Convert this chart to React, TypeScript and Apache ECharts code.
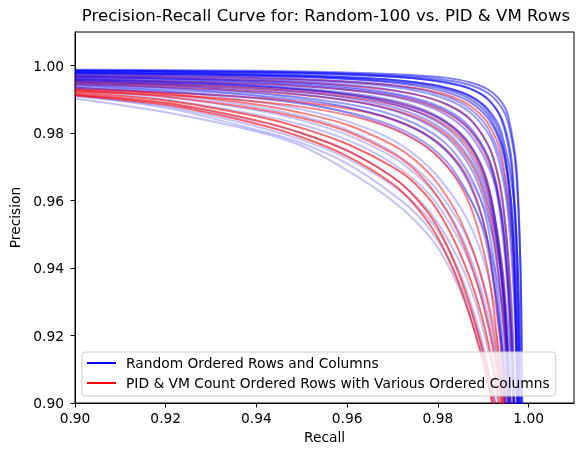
import React, { useEffect, useRef } from "react";
import * as echarts from "echarts";

const TITLE = "Precision-Recall Curve for: Random-100 vs. PID & VM Rows";
const X_NAME = "Recall";
const Y_NAME = "Precision";
const BLUE_NAME = "Random Ordered Rows and Columns";
const RED_NAME = "PID & VM Count Ordered Rows with Various Ordered Columns";

const RECALL_TICKS = [0.9, 0.92, 0.94, 0.96, 0.98, 1.0];
const PRECISION_TICKS = [0.9, 0.92, 0.94, 0.96, 0.98, 1.0];

// [recall, precision] points
const BLUE_OUTER = [
  [[0.90,0.9988],[0.93,0.9986],[0.95,0.9983],[0.965,0.9978],[0.975,0.9972],[0.982,0.9964],[0.987,0.9951],[0.991,0.993],[0.994,0.9893],[0.9955,0.985],[0.9973,0.97],[0.9982,0.94],[0.9985,0.9],[0.9986,0.86]],
  [[0.90,0.9986],[0.93,0.9983],[0.95,0.998],[0.965,0.9974],[0.975,0.9967],[0.982,0.9957],[0.987,0.9943],[0.991,0.9919],[0.994,0.9877],[0.9955,0.983],[0.99715,0.97],[0.9982,0.94],[0.9986,0.9],[0.99877,0.86]],
  [[0.90,0.9986],[0.93,0.9983],[0.95,0.9979],[0.965,0.9972],[0.975,0.9963],[0.982,0.9951],[0.987,0.9933],[0.991,0.9901],[0.994,0.9841],[0.9962,0.97],[0.9974,0.94],[0.9979,0.9],[0.9981,0.86]],
  [[0.90,0.9982],[0.93,0.9978],[0.95,0.9972],[0.965,0.9963],[0.975,0.9951],[0.982,0.9934],[0.987,0.9911],[0.991,0.9872],[0.994,0.9803],[0.99675,0.96],[0.99786,0.93],[0.99829,0.9],[0.99858,0.86]],
  [[0.90,0.9984],[0.93,0.9981],[0.95,0.9977],[0.965,0.997],[0.975,0.9962],[0.982,0.9949],[0.987,0.9932],[0.991,0.9901],[0.994,0.9845],[0.9955,0.9779],[0.9964,0.97],[0.9976,0.94],[0.9981,0.9],[0.9983,0.86]],
  [[0.90,0.9979],[0.93,0.9974],[0.95,0.9967],[0.965,0.9956],[0.975,0.9941],[0.982,0.9921],[0.987,0.9893],[0.991,0.9845],[0.994,0.976],[0.99613,0.96],[0.99746,0.93],[0.99799,0.9],[0.99834,0.86]],
  [[0.90,0.998],[0.93,0.9976],[0.95,0.997],[0.965,0.9962],[0.975,0.9951],[0.982,0.9934],[0.987,0.991],[0.991,0.9867],[0.994,0.9784],[0.99609,0.96],[0.99709,0.93],[0.99749,0.9],[0.99775,0.86]],
  [[0.90,0.9978],[0.93,0.9973],[0.95,0.9967],[0.965,0.9958],[0.975,0.9946],[0.982,0.9928],[0.987,0.9902],[0.991,0.9856],[0.994,0.9771],[0.99513,0.97],[0.9969,0.94],[0.99759,0.9],[0.99788,0.86]],
];

const BLUE_MID = [
  [[0.90,0.9973],[0.93,0.9966],[0.95,0.9957],[0.965,0.9944],[0.975,0.9926],[0.982,0.99],[0.987,0.9863],[0.991,0.9801],[0.993,0.9738],[0.99513,0.96],[0.99682,0.93],[0.99748,0.9],[0.99792,0.86]],
  [[0.90,0.997],[0.93,0.9962],[0.95,0.9952],[0.965,0.9937],[0.975,0.9915],[0.982,0.9885],[0.987,0.9842],[0.991,0.9766],[0.993,0.9689],[0.99431,0.96],[0.99623,0.93],[0.99698,0.9],[0.99747,0.86]],
  [[0.90,0.9976],[0.93,0.997],[0.95,0.9961],[0.965,0.9949],[0.975,0.9932],[0.982,0.9908],[0.987,0.9873],[0.991,0.9815],[0.994,0.971],[0.99614,0.95],[0.99723,0.92],[0.99759,0.9],[0.99799,0.86]],
  [[0.90,0.9968],[0.93,0.9959],[0.95,0.9947],[0.965,0.9929],[0.975,0.9904],[0.982,0.9869],[0.987,0.9819],[0.991,0.9732],[0.993,0.9643],[0.9947,0.95],[0.99626,0.92],[0.99678,0.9],[0.99736,0.86]],
  [[0.90,0.995],[0.93,0.9935],[0.95,0.9915],[0.965,0.9885],[0.975,0.9844],[0.982,0.9787],[0.987,0.9703],[0.99,0.9608],[0.99197,0.95],[0.99397,0.93],[0.99544,0.9],[0.99641,0.86]],
  [[0.90,0.996],[0.93,0.9949],[0.95,0.9933],[0.965,0.991],[0.975,0.9879],[0.982,0.9833],[0.987,0.9768],[0.991,0.9652],[0.99423,0.94],[0.99532,0.92],[0.99596,0.9],[0.9967,0.86]],
  [[0.90,0.996],[0.93,0.9947],[0.95,0.9929],[0.965,0.9902],[0.975,0.9865],[0.982,0.9814],[0.987,0.974],[0.991,0.9615],[0.99392,0.94],[0.9952,0.92],[0.99597,0.9],[0.99684,0.86]],
  [[0.90,0.994],[0.93,0.9922],[0.95,0.9898],[0.965,0.9862],[0.975,0.9813],[0.982,0.9745],[0.987,0.9647],[0.99067,0.95],[0.99312,0.93],[0.99446,0.91],[0.99492,0.9],[0.9961,0.86]],
  [[0.90,0.9958],[0.93,0.9946],[0.95,0.993],[0.965,0.9906],[0.975,0.9873],[0.982,0.9828],[0.987,0.9762],[0.99,0.968],[0.9925,0.955],[0.9945,0.93],[0.9957,0.9],[0.9966,0.86]],
  [[0.90,0.9964],[0.93,0.9954],[0.95,0.994],[0.965,0.992],[0.975,0.9892],[0.982,0.9853],[0.987,0.9797],[0.991,0.9705],[0.993,0.962],[0.995,0.94],[0.9962,0.91],[0.9966,0.9],[0.9972,0.86]],
  [[0.90,0.9945],[0.93,0.9928],[0.95,0.9906],[0.965,0.9873],[0.975,0.9828],[0.982,0.9766],[0.987,0.9675],[0.99,0.958],[0.992,0.945],[0.9938,0.925],[0.9951,0.9],[0.9962,0.86]],
  [[0.90,0.9935],[0.93,0.9915],[0.95,0.9887],[0.965,0.9845],[0.975,0.979],[0.982,0.9715],[0.987,0.961],[0.99,0.951],[0.992,0.938],[0.9938,0.92],[0.9948,0.9],[0.996,0.86]],
  [[0.90,0.9966],[0.93,0.9957],[0.95,0.9944],[0.965,0.9925],[0.975,0.99],[0.982,0.9864],[0.987,0.9812],[0.991,0.973],[0.9935,0.96],[0.9955,0.935],[0.9966,0.905],[0.9968,0.9],[0.9973,0.86]],
  [[0.90,0.9955],[0.93,0.9941],[0.95,0.9922],[0.965,0.9893],[0.975,0.9855],[0.982,0.9802],[0.987,0.9725],[0.99,0.964],[0.9925,0.951],[0.9945,0.93],[0.9958,0.905],[0.996,0.9],[0.9967,0.86]],
];

const BLUE_INNER = [
  [[0.90,0.9903],[0.92,0.9862],[0.94,0.9805],[0.95,0.9762],[0.96,0.969],[0.969,0.961],[0.975,0.954],[0.98,0.946],[0.984,0.936],[0.987,0.926],[0.99,0.913],[0.992,0.9],[0.9935,0.88]],
  [[0.90,0.991],[0.92,0.9875],[0.94,0.981],[0.95,0.977],[0.96,0.971],[0.97,0.962],[0.976,0.955],[0.981,0.946],[0.985,0.935],[0.988,0.924],[0.991,0.91],[0.9928,0.899],[0.994,0.88]],
  [[0.90,0.9912],[0.92,0.988],[0.94,0.982],[0.95,0.978],[0.96,0.9725],[0.97,0.9645],[0.975,0.959],[0.98,0.951],[0.985,0.938],[0.989,0.922],[0.9915,0.908],[0.993,0.896],[0.994,0.88]],
  [[0.90,0.9917],[0.92,0.9888],[0.94,0.9835],[0.95,0.98],[0.96,0.975],[0.97,0.967],[0.978,0.957],[0.984,0.944],[0.988,0.931],[0.991,0.916],[0.993,0.902],[0.9942,0.88]],
  [[0.90,0.9925],[0.92,0.99],[0.94,0.9855],[0.95,0.9825],[0.96,0.978],[0.97,0.971],[0.978,0.962],[0.984,0.95],[0.988,0.938],[0.991,0.924],[0.9935,0.907],[0.9948,0.88]],
  [[0.90,0.993],[0.92,0.9908],[0.94,0.9868],[0.95,0.9838],[0.96,0.9795],[0.97,0.973],[0.975,0.968],[0.98,0.961],[0.985,0.95],[0.989,0.936],[0.992,0.92],[0.9945,0.9],[0.9955,0.88]],
  [[0.90,0.9935],[0.92,0.9915],[0.94,0.9878],[0.95,0.985],[0.96,0.981],[0.97,0.9745],[0.978,0.966],[0.984,0.955],[0.988,0.944],[0.991,0.931],[0.9935,0.915],[0.995,0.895],[0.9958,0.87]],
  [[0.90,0.9942],[0.92,0.9925],[0.94,0.9893],[0.95,0.987],[0.96,0.9835],[0.97,0.978],[0.978,0.97],[0.984,0.96],[0.988,0.95],[0.991,0.938],[0.994,0.918],[0.9955,0.898],[0.9962,0.87]],
  [[0.90,0.9948],[0.92,0.9935],[0.94,0.991],[0.95,0.989],[0.96,0.986],[0.97,0.9815],[0.978,0.9755],[0.984,0.967],[0.988,0.958],[0.991,0.948],[0.994,0.93],[0.996,0.905],[0.9965,0.88]],
  [[0.90,0.9955],[0.92,0.9943],[0.94,0.992],[0.95,0.9903],[0.96,0.9878],[0.97,0.984],[0.978,0.979],[0.984,0.972],[0.988,0.964],[0.991,0.955],[0.994,0.938],[0.996,0.915],[0.9968,0.895],[0.9972,0.87]],
];

const RED_UPPER = [
  [[0.90,0.9972],[0.93,0.9967],[0.95,0.9959],[0.965,0.9948],[0.975,0.9934],[0.982,0.9913],[0.987,0.9882],[0.991,0.983],[0.994,0.9734],[0.99632,0.95],[0.99727,0.92],[0.99758,0.9],[0.99793,0.86]],
  [[0.90,0.9967],[0.93,0.996],[0.95,0.995],[0.965,0.9935],[0.975,0.9915],[0.982,0.9885],[0.987,0.9843],[0.991,0.9767],[0.993,0.9687],[0.99509,0.95],[0.99636,0.92],[0.99677,0.9],[0.99724,0.86]],
  [[0.90,0.996],[0.93,0.9951],[0.95,0.9939],[0.965,0.9921],[0.975,0.9896],[0.982,0.986],[0.987,0.9809],[0.991,0.972],[0.993,0.9629],[0.99453,0.95],[0.99614,0.92],[0.99666,0.9],[0.99725,0.86]],
  [[0.90,0.9954],[0.93,0.9943],[0.95,0.9928],[0.965,0.9906],[0.975,0.9875],[0.982,0.9831],[0.987,0.9766],[0.991,0.9649],[0.99415,0.94],[0.99522,0.92],[0.99585,0.9],[0.99656,0.86]],
  [[0.90,0.995],[0.93,0.9938],[0.95,0.9922],[0.965,0.9898],[0.975,0.9866],[0.982,0.982],[0.987,0.9752],[0.991,0.963],[0.9938,0.94],[0.9949,0.92],[0.99555,0.9],[0.9963,0.86]],
  [[0.90,0.9945],[0.93,0.9931],[0.95,0.9913],[0.965,0.9886],[0.975,0.9848],[0.982,0.9794],[0.987,0.9716],[0.99,0.9626],[0.99228,0.95],[0.99473,0.92],[0.99552,0.9],[0.99642,0.86]],
  [[0.90,0.9935],[0.92,0.9918],[0.94,0.9885],[0.95,0.986],[0.96,0.9825],[0.97,0.9765],[0.975,0.972],[0.98,0.965],[0.985,0.954],[0.989,0.94],[0.992,0.923],[0.9945,0.9],[0.9955,0.875]],
  [[0.90,0.9929],[0.93,0.9914],[0.95,0.9892],[0.965,0.986],[0.975,0.9814],[0.982,0.9749],[0.987,0.9653],[0.99067,0.95],[0.99362,0.92],[0.99457,0.9],[0.99564,0.86]],
  [[0.90,0.9928],[0.92,0.9908],[0.94,0.9872],[0.95,0.9845],[0.96,0.9805],[0.97,0.974],[0.975,0.969],[0.98,0.961],[0.985,0.949],[0.989,0.934],[0.992,0.917],[0.994,0.9],[0.995,0.88]],
  [[0.90,0.9924],[0.93,0.9905],[0.95,0.9878],[0.965,0.9837],[0.975,0.9781],[0.982,0.9702],[0.987,0.9589],[0.99091,0.94],[0.99296,0.92],[0.99416,0.9],[0.99552,0.86]],
];

const RED_LOWER = [
  [[0.90,0.9915],[0.92,0.989],[0.94,0.9838],[0.95,0.98],[0.96,0.9748],[0.97,0.967],[0.975,0.961],[0.98,0.952],[0.985,0.937],[0.989,0.92],[0.9915,0.906],[0.9928,0.895],[0.994,0.875]],
  [[0.90,0.992],[0.92,0.9897],[0.94,0.985],[0.95,0.9815],[0.96,0.9768],[0.97,0.97],[0.975,0.965],[0.98,0.957],[0.985,0.944],[0.989,0.929],[0.992,0.912],[0.9938,0.897],[0.995,0.875]],
  [[0.90,0.9912],[0.92,0.9884],[0.94,0.9828],[0.95,0.9788],[0.96,0.9732],[0.97,0.965],[0.975,0.9585],[0.98,0.949],[0.985,0.934],[0.989,0.917],[0.9912,0.905],[0.9925,0.895],[0.9935,0.875]],
];

const FONT = "DejaVu Sans";
const FS = 13.8;

function curveSeries(curves: number[][][], color: string, opacity: number, prefix: string) {
  return curves.map((c, i) => ({
    type: "line",
    name: prefix + i,
    data: c,
    symbol: "none",
    showSymbol: false,
    smooth: 0.3,
    clip: true,
    silent: true,
    lineStyle: { color, width: 2, opacity },
    itemStyle: { color },
    emphasis: { disabled: true },
  }));
}

export default function App() {
  const ref = useRef<HTMLDivElement>(null);
  useEffect(() => {
    if (!ref.current) return;
    const chart = echarts.init(ref.current, undefined, { renderer: "svg" });
    const axisCommon = {
      type: "value",
      min: 0.9,
      max: 1.01,
      splitLine: { show: false },
      axisLine: { show: true, lineStyle: { color: "#000", width: 1 } },
      axisTick: { show: true, inside: false, length: 4.5, lineStyle: { color: "#000" } },
      nameLocation: "middle",
      nameTextStyle: { fontFamily: FONT, fontSize: FS, color: "#000" },
    };
    const fmt = (v: number) => v.toFixed(2);
    chart.setOption({
      animation: false,
      textStyle: { fontFamily: FONT },
      title: {
        text: TITLE,
        left: 326,
        textAlign: "center",
        top: 7,
        padding: 0,
        textStyle: { fontFamily: FONT, fontSize: 16.6, fontWeight: "normal", color: "#000" },
      },
      grid: { left: 75, right: 9, top: 32, bottom: 46, show: true, borderColor: "#000", borderWidth: 1, backgroundColor: "transparent" },
      xAxis: {
        ...axisCommon,
        name: X_NAME,
        nameGap: 27,
        axisTick: { ...axisCommon.axisTick, customValues: RECALL_TICKS },
        axisLabel: { customValues: RECALL_TICKS, formatter: fmt, fontFamily: FONT, fontSize: FS, color: "#000", margin: 8 },
      },
      yAxis: {
        ...axisCommon,
        name: Y_NAME,
        nameGap: 45,
        axisTick: { ...axisCommon.axisTick, customValues: PRECISION_TICKS },
        axisLabel: { customValues: PRECISION_TICKS, formatter: fmt, fontFamily: FONT, fontSize: FS, color: "#000", margin: 11 },
      },
      legend: {
        orient: "vertical",
        left: 82,
        top: 352,
        padding: [4, 6, 6, 5],
        itemGap: 6,
        itemWidth: 29,
        itemHeight: 14,
        icon: "path://M0,0L29,0L29,0.001ZM0,6L29,6L29,8L0,8ZM0,14L29,14L29,14.001Z",
        borderColor: "#cccccc",
        borderWidth: 1,
        borderRadius: 3,
        backgroundColor: "rgba(255,255,255,0.8)",
        itemStyle: { borderWidth: 0 },
        textStyle: { fontFamily: FONT, fontSize: FS, color: "#000", padding: [0, 0, 0, 5] },
        data: [BLUE_NAME, RED_NAME],
        selectedMode: false,
      },
      series: [
        ...curveSeries(BLUE_INNER, "#0000ff", 0.24, "bi"),
        ...curveSeries(RED_LOWER, "#ff0000", 0.6, "rl"),
        ...curveSeries(RED_UPPER, "#ff0000", 0.5, "ru"),
        ...curveSeries(BLUE_MID, "#0000ff", 0.38, "bm"),
        ...curveSeries(BLUE_OUTER, "#0000ff", 0.5, "bo"),
        { type: "line", name: BLUE_NAME, data: [], symbol: "none", lineStyle: { color: "#0000ff", width: 2 }, itemStyle: { color: "#0000ff" } },
        { type: "line", name: RED_NAME, data: [], symbol: "none", lineStyle: { color: "#ff0000", width: 2 }, itemStyle: { color: "#ff0000" } },
      ],
    });
    return () => chart.dispose();
  }, []);
  return <div ref={ref} style={{ position: "fixed", left: 0, top: 0, width: 583, height: 449 }} />;
}
